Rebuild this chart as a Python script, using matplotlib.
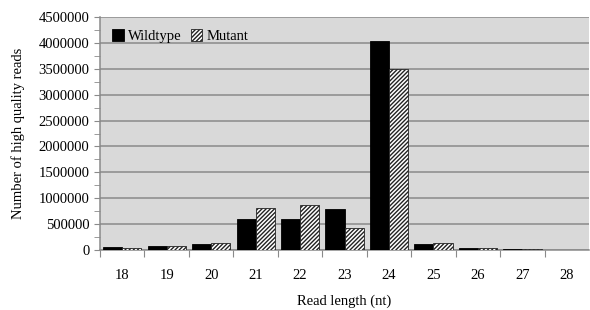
import matplotlib
matplotlib.use("Agg")
import matplotlib.pyplot as plt
import numpy as np

categories = ["18", "19", "20", "21", "22", "23", "24", "25", "26", "27", "28"]
wildtype = [50000, 85000, 120000, 600000, 600000, 790000, 4040000, 110000, 45000, 25000, 3000]
mutant = [40000, 80000, 130000, 810000, 870000, 430000, 3500000, 130000, 40000, 25000, 2000]

plt.rcParams['font.family'] = ['Liberation Serif', 'DejaVu Serif']
plt.rcParams['hatch.linewidth'] = 1.0

fig = plt.figure(figsize=(5.9, 3.1), dpi=100)
ax = fig.add_axes([0.1695, 0.1935, 0.829, 0.7515])
ax.set_facecolor('#d9d9d9')

x = np.arange(len(categories))
w = 0.43
ax.bar(x - w/2, wildtype, width=w, color='black', edgecolor='black', linewidth=0.6,
       label='Wildtype', zorder=3)
ax.bar(x + w/2, mutant, width=w, color='white', edgecolor='#222222', hatch='////////',
       linewidth=0.6, label='Mutant', zorder=3)

ax.set_xlim(-0.5, len(categories) - 0.5)
ax.set_ylim(0, 4500000)
ax.set_yticks(np.arange(0, 4500001, 500000))
ax.set_yticklabels([str(v) for v in range(0, 4500001, 500000)])
ax.set_yticks(np.arange(250000, 4500000, 500000), minor=True)
ax.yaxis.grid(True, which='major', color='#8a8a8a', linewidth=1.1, zorder=1)
ax.set_axisbelow(True)

ax.set_xticks(np.arange(-0.5, len(categories) - 1, 1.0))
ax.set_xticklabels([])
ax.set_xticks(x, minor=True)
ax.set_xticklabels(categories, minor=True)
ax.tick_params(axis='x', which='major', length=5, color='#8a8a8a', direction='out')
ax.tick_params(axis='x', which='minor', length=0, pad=14, labelsize=10.5)
ax.tick_params(axis='y', which='both', length=4, color='#8a8a8a', direction='out', labelsize=10.5)

for s in ['top', 'right']:
    ax.spines[s].set_visible(False)
for s in ['left', 'bottom']:
    ax.spines[s].set_color('#8a8a8a')
    ax.spines[s].set_linewidth(1.1)

ax.set_ylabel('Number of high quality reads', fontsize=10.5, labelpad=10)
ax.set_xlabel('Read length (nt)', fontsize=10.5, labelpad=9)

ax.legend(loc='upper left', ncol=2, frameon=False, fontsize=10.5,
          handlelength=0.8, handleheight=0.8, handletextpad=0.3, columnspacing=0.6,
          bbox_to_anchor=(0.0, 1.0), borderaxespad=0.45)

fig.savefig('out.png', dpi=100)
